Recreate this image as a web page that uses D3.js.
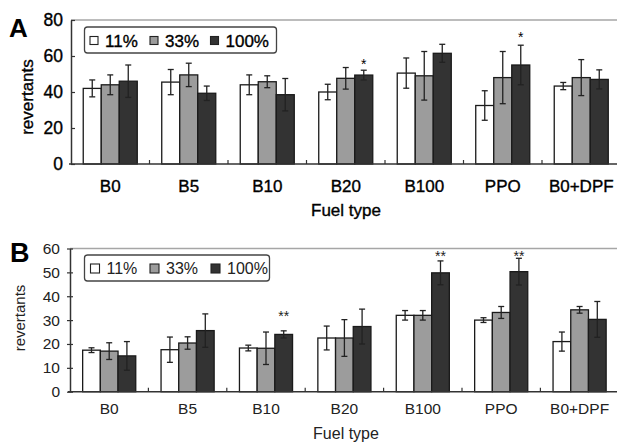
<!DOCTYPE html>
<html>
<head>
<meta charset="utf-8">
<script src="https://cdn.jsdelivr.net/npm/d3@7"></script>
<style>
  html, body { margin: 0; padding: 0; background: #fff; }
  svg { display: block; font-family: "Liberation Sans", Arial, sans-serif; }
</style>
</head>
<body>
<svg id="chart" width="617" height="443"></svg>
<script>
// ---------- data ----------
const categories = ["B0", "B5", "B10", "B20", "B100", "PPO", "B0+DPF"];
const seriesNames = ["11%", "33%", "100%"];

// Panel A (revertants)
const a11 = [42, 45.5, 44, 40, 50.5, 32.5, 43.3];
const a11Err = [4.7, 7, 5.5, 4.3, 8.4, 8.2, 2];
const a33 = [44, 49.5, 45.7, 47.6, 49, 48, 48];
const a33Err = [5.5, 6.5, 3.3, 6, 13.5, 14.5, 10];
const a100 = [46, 39.3, 38.5, 49.4, 61.5, 55, 47];
const a100Err = [9, 4, 9, 2.7, 5, 11, 5.3];
const aSig = ["", "", "", "*", "", "*", ""];
const aSigLevel = [null, null, null, 57.4, null, 72.2, null];
const aTicks = [0, 20, 40, 60, 80];

// Panel B (revertants)
const b11 = [17.4, 17.6, 18.3, 22.5, 32, 30, 21];
const b11Err = [1, 5.3, 1.2, 5, 2, 1, 4];
const b33 = [17, 20.4, 18.2, 22.5, 32, 33.2, 34.3];
const b33Err = [3.5, 2.6, 6.8, 7.7, 2, 2.5, 1.4];
const b100 = [15, 25.6, 24, 27.3, 49.8, 50.3, 30.3];
const b100Err = [6, 7, 1.5, 7.3, 5, 5.6, 7.5];
const bSig = ["", "", "**", "", "**", "**", ""];
const bSigLevel = [null, null, 33, null, 58.2, 58.2, null];
const bTicks = [0, 10, 20, 30, 40, 50, 60];

const fills = ["#ffffff", "#9c9c9c", "#333333"];

function rows(v11, e11, v33, e33, v100, e100) {
  const out = [];
  categories.forEach((c, i) => {
    out.push({ cat: c, s: "11%", v: v11[i], e: e11[i] });
    out.push({ cat: c, s: "33%", v: v33[i], e: e33[i] });
    out.push({ cat: c, s: "100%", v: v100[i], e: e100[i] });
  });
  return out;
}

const svg = d3.select("#chart");

function panel(cfg) {
  const g = svg.append("g");
  const y = d3.scaleLinear().domain(cfg.domain).range([cfg.y0, cfg.y1]);
  const x = d3.scaleBand().domain(categories).range([cfg.x0, cfg.x1]);
  const xs = d3.scaleBand().domain(seriesNames).range([0, x.bandwidth()]).paddingOuter(cfg.po).paddingInner(0);
  const color = d3.scaleOrdinal().domain(seriesNames).range(fills);
  const txt = cfg.textColor;

  // top gray frame line
  g.append("line")
    .attr("x1", cfg.x0).attr("x2", 617)
    .attr("y1", y(cfg.domain[1])).attr("y2", y(cfg.domain[1]))
    .attr("stroke", "#a6a6a6").attr("stroke-width", 1.5);

  // bars
  const data = rows(...cfg.series);
  g.selectAll("rect.bar").data(data).join("rect")
    .attr("class", "bar")
    .attr("x", d => x(d.cat) + xs(d.s))
    .attr("y", d => y(d.v))
    .attr("width", xs.bandwidth())
    .attr("height", d => y(0) - y(d.v))
    .attr("fill", d => color(d.s))
    .attr("stroke", "#1a1a1a").attr("stroke-width", 1.3);

  // error bars
  const eb = g.selectAll("g.err").data(data).join("g").attr("class", "err")
    .attr("stroke", "#222").attr("stroke-width", 1.3);
  const cx = d => x(d.cat) + xs(d.s) + xs.bandwidth() / 2;
  eb.append("line").attr("x1", cx).attr("x2", cx)
    .attr("y1", d => y(d.v + d.e)).attr("y2", d => y(d.v - d.e));
  eb.append("line").attr("x1", d => cx(d) - 3).attr("x2", d => cx(d) + 3)
    .attr("y1", d => y(d.v + d.e)).attr("y2", d => y(d.v + d.e));
  eb.append("line").attr("x1", d => cx(d) - 3).attr("x2", d => cx(d) + 3)
    .attr("y1", d => y(d.v - d.e)).attr("y2", d => y(d.v - d.e));

  // significance stars
  g.selectAll("text.sig").data(categories.map((c, i) => ({ c, s: cfg.sig[i], lv: cfg.sigLevel[i] })).filter(d => d.s))
    .join("text").attr("class", "sig")
    .attr("x", d => x(d.c) + xs("100%") + xs.bandwidth() / 2)
    .attr("y", d => y(d.lv) + 8)
    .attr("text-anchor", "middle")
    .attr("font-size", 14)
    .attr("fill", txt)
    .text(d => d.s);

  // y axis
  const ya = g.append("g").attr("transform", `translate(${cfg.x0},0)`)
    .call(d3.axisLeft(y).tickValues(cfg.ticks).tickSize(cfg.yTickIn).tickSizeOuter(0).tickPadding(cfg.yPad));
  ya.select(".domain").attr("stroke", "#333").attr("stroke-width", 1.5);
  ya.selectAll(".tick line").attr("stroke", "#333").attr("stroke-width", 1.2);
  if (cfg.crossTicks) ya.selectAll(".tick line").attr("x1", -3);
  ya.selectAll(".tick text").attr("font-size", cfg.tickFont).attr("fill", txt)
    .attr("font-family", "Liberation Sans, Arial, sans-serif")
    .attr("stroke", cfg.textStroke).attr("stroke-width", cfg.textStrokeW);

  // x axis
  const xa = g.append("g").attr("transform", `translate(0,${y(0)})`)
    .call(d3.axisBottom(x).tickSize(0).tickPadding(cfg.xPad));
  xa.select(".domain").attr("stroke", "#333").attr("stroke-width", 1.5)
    .attr("d", `M${cfg.x0 - 2},0H617`);
  xa.selectAll(".tick text").attr("font-size", cfg.catFont).attr("fill", txt)
    .attr("font-family", "Liberation Sans, Arial, sans-serif")
    .attr("stroke", cfg.textStroke).attr("stroke-width", cfg.textStrokeW);
  // boundary ticks
  xa.selectAll("line.bt").data(categories.slice(1)).join("line").attr("class", "bt")
    .attr("x1", d => x(d)).attr("x2", d => x(d))
    .attr("y1", 0).attr("y2", -4)
    .attr("stroke", "#333").attr("stroke-width", 1.2);

  // x title
  g.append("text").attr("x", 346).attr("y", cfg.xTitleY)
    .attr("text-anchor", "middle").attr("font-size", cfg.titleFont)
    .attr("fill", txt).attr("stroke", cfg.textStroke).attr("stroke-width", cfg.textStrokeW)
    .text("Fuel type");

  // y title
  g.append("text")
    .attr("transform", `translate(${cfg.yTitleX},${cfg.yTitleY}) rotate(-90)`)
    .attr("text-anchor", "middle").attr("font-size", cfg.yTitleFont)
    .attr("fill", txt).attr("stroke", cfg.textStroke).attr("stroke-width", cfg.textStrokeW)
    .text("revertants");

  // panel letter
  g.append("text").attr("x", cfg.letterX).attr("y", cfg.letterY)
    .attr("font-size", cfg.letterFont).attr("font-weight", "bold").attr("fill", "#000")
    .text(cfg.letter);

  // legend
  const lg = g.append("g");
  lg.append("rect").attr("x", cfg.leg.x).attr("y", cfg.leg.y)
    .attr("width", cfg.leg.w).attr("height", cfg.leg.h)
    .attr("rx", 3).attr("fill", "#fff").attr("stroke", "#444").attr("stroke-width", 1.3);
  seriesNames.forEach((s, i) => {
    const sx = cfg.leg.items[i];
    lg.append("rect").attr("x", sx).attr("y", cfg.leg.sy)
      .attr("width", cfg.leg.ss).attr("height", cfg.leg.ss)
      .attr("fill", color(s)).attr("stroke", "#222").attr("stroke-width", 1.1);
    lg.append("text").attr("x", sx + cfg.leg.ss + 7).attr("y", cfg.leg.ty)
      .attr("font-size", cfg.leg.font).attr("fill", txt)
      .attr("stroke", cfg.textStroke).attr("stroke-width", cfg.textStrokeW)
      .text(s);
  });
}

panel({
  domain: [0, 80], y0: 164, y1: 20, x0: 71, x1: 620.5, po: 0.68,
  series: [a11, a11Err, a33, a33Err, a100, a100Err],
  sig: aSig, sigLevel: aSigLevel, ticks: aTicks,
  textColor: "#000", textStroke: "#000", textStrokeW: 0.35,
  yTickIn: -4, yPad: 8, crossTicks: false, tickFont: 17.5, catFont: 17, xPad: 16,
  titleFont: 17, xTitleY: 216, yTitleX: 33, yTitleY: 97, yTitleFont: 17,
  letter: "A", letterX: 9, letterY: 37, letterFont: 26,
  leg: { x: 84.5, y: 27, w: 192, h: 26, sy: 36.5, ss: 8, ty: 46.5, font: 17, items: [90, 150, 210.5] }
});

panel({
  domain: [0, 60], y0: 391.7, y1: 248.5, x0: 70, x1: 618.8, po: 0.715,
  series: [b11, b11Err, b33, b33Err, b100, b100Err],
  sig: bSig, sigLevel: bSigLevel, ticks: bTicks,
  textColor: "#222", textStroke: "none", textStrokeW: 0,
  yTickIn: -3, yPad: 10, crossTicks: true, tickFont: 15.5, catFont: 15.5, xPad: 11.5,
  titleFont: 16, xTitleY: 439, yTitleX: 25, yTitleY: 318, yTitleFont: 15,
  letter: "B", letterX: 10, letterY: 262, letterFont: 27,
  leg: { x: 84.5, y: 255, w: 185, h: 26, sy: 264, ss: 9, ty: 273.5, font: 16, items: [90.5, 150, 211] }
});
</script>
</body>
</html>
